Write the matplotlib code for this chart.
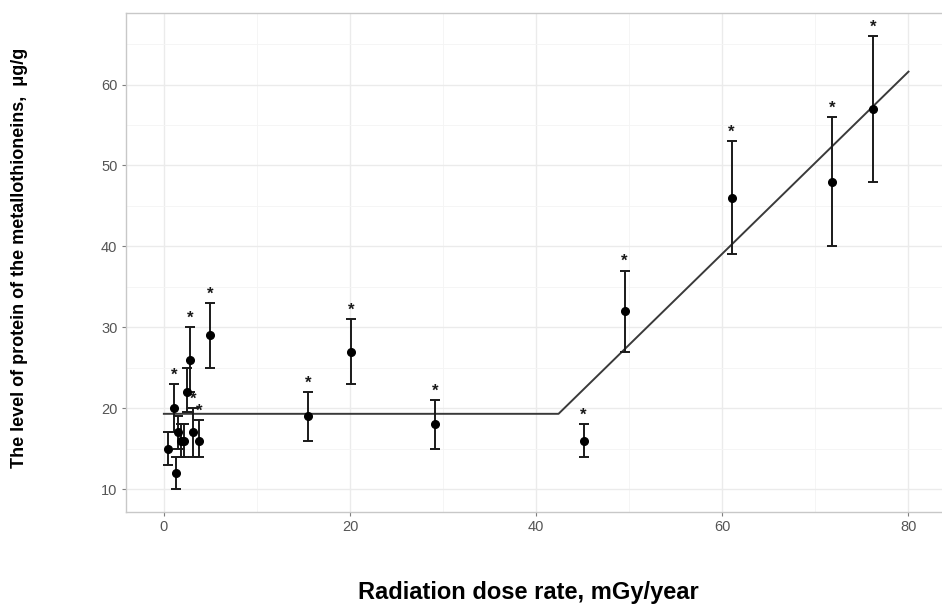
import matplotlib
matplotlib.use("Agg")
import matplotlib.pyplot as plt
from matplotlib.ticker import MultipleLocator
import numpy as np

plt.rcParams['font.family'] = ['Liberation Sans', 'DejaVu Sans']

# Data
dose = [0.4, 1.1, 1.3, 1.5, 1.8, 2.2, 2.5, 2.8, 3.1, 3.8, 5.0, 15.5, 20.1, 29.1, 45.1, 49.5, 61.0, 71.8, 76.2]
level = [15, 20, 12, 17, 16, 16, 22, 26, 17, 16, 29, 19, 27, 18, 16, 32, 46, 48, 57]
lower = [13, 17, 10, 15, 14, 14, 19.5, 22, 14, 14, 25, 16, 23, 15, 14, 27, 39, 40, 48]
upper = [17, 23, 14, 19, 18, 18, 25, 30, 20, 18.5, 33, 22, 31, 21, 18, 37, 53, 56, 66]
significant = [False, True, False, False, False, False, False, True, True, True, True,
               True, True, True, True, True, True, True, True]

fit_x = [0, 42.4, 80]
fit_y = [19.3, 19.3, 61.6]

x_ticks = [0, 20, 40, 60, 80]
y_ticks = [10, 20, 30, 40, 50, 60]

W, H = 942, 607
fig = plt.figure(figsize=(W / 100, H / 100), dpi=100)
ax_left, ax_right, ax_top, ax_bottom = 125.7, 942, 13, 511.7
ax = fig.add_axes([ax_left / W, 1 - ax_bottom / H, (ax_right - ax_left) / W, (ax_bottom - ax_top) / H])

ax.set_xlim(-4.1, 83.6)
ax.set_ylim(7.2, 68.85)

# Grid (ggplot theme_bw-like)
ax.set_xticks(x_ticks)
ax.set_yticks(y_ticks)
ax.xaxis.set_minor_locator(MultipleLocator(10))
ax.yaxis.set_minor_locator(MultipleLocator(5))
ax.grid(which='major', color='#ebebeb', linewidth=1.0)
ax.grid(which='minor', color='#f4f4f4', linewidth=0.6)
ax.set_axisbelow(True)
ax.tick_params(which='minor', length=0)
ax.tick_params(which='major', length=3, width=0.8, color='#7f7f7f',
               labelcolor='#555555', labelsize=10.5, pad=3)
for s in ax.spines.values():
    s.set_color('#c8c8c8')
    s.set_linewidth(1.0)
ax.spines['right'].set_visible(False)

# Fitted segmented line
ax.plot(fit_x, fit_y, color='#3a3a3a', linewidth=1.4, zorder=2)

# Error bars and points
yerr = [np.array(level) - np.array(lower), np.array(upper) - np.array(level)]
ax.errorbar(dose, level, yerr=yerr, fmt='o', color='black', ecolor='#1a1a1a',
            elinewidth=1.4, capsize=3.5, capthick=1.4, markersize=5.5, zorder=3)

# Significance stars
for xv, up, sig in zip(dose, upper, significant):
    if sig:
        ax.annotate('*', (xv, up), xytext=(0, 1), textcoords='offset points',
                    ha='center', va='bottom', fontsize=12, fontweight='bold',
                    color='#1a1a1a')

fig.text(528 / W, 1 - 593 / H, 'Radiation dose rate, mGy/year', ha='center', va='center',
         fontsize=17, fontweight='bold')
fig.text(20 / W, 1 - 258 / H, 'The level of protein of the metallothioneins,  μg/g', ha='center',
         va='center', rotation=90, fontsize=13, fontweight='bold')

fig.savefig('out.png', dpi=100)
